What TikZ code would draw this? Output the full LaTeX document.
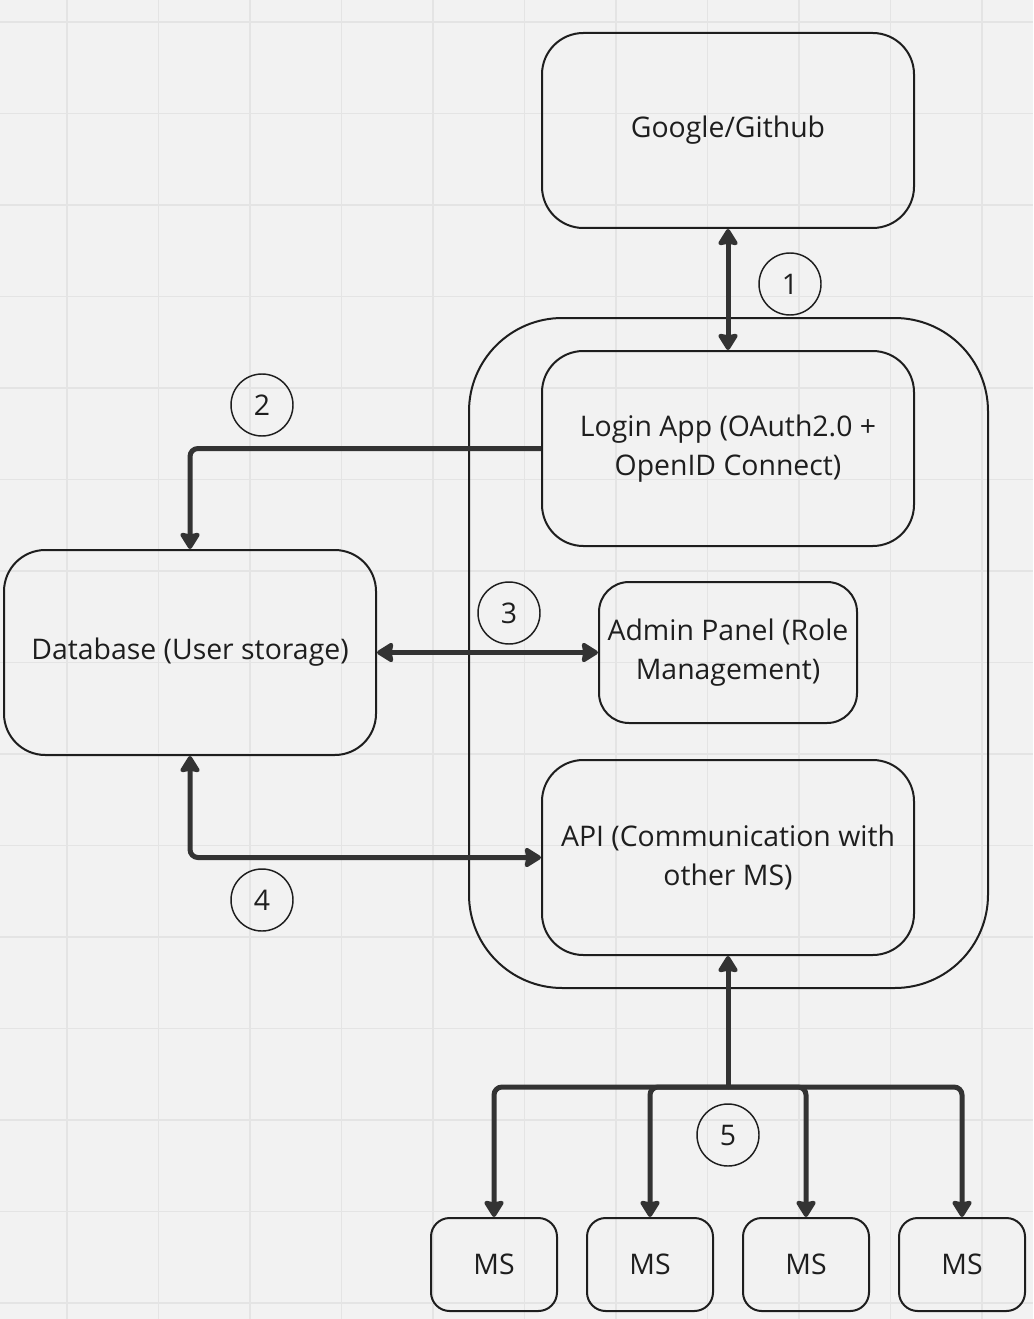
\documentclass[tikz,border=0pt]{standalone}
\usepackage{fontspec}
\setmainfont{Open Sans}
\usetikzlibrary{arrows.meta}
\definecolor{bgc}{HTML}{F2F2F2}
\definecolor{gridc}{HTML}{E4E4E4}
\definecolor{linec}{HTML}{1E1E1E}
\definecolor{connc}{HTML}{333333}
\definecolor{textc}{HTML}{1E1E1E}
\tikzset{
  box/.style={draw=linec, line width=1.5pt, rounded corners=31pt, inner sep=0pt, align=center, text=textc,
    font=\fontsize{21.3pt}{29pt}\selectfont},
  bigbox/.style={box, minimum width=279pt, minimum height=146.25pt},
  msbox/.style={box, rounded corners=14pt, minimum width=94.5pt, minimum height=69.75pt},
  numc/.style={circle, draw=linec, line width=1.1pt, minimum size=46.5pt, inner sep=0pt, text=textc,
    font=\fontsize{21.3pt}{29pt}\selectfont},
  conn/.style={draw=connc, line width=3.75pt, rounded corners=6pt,
    arrows={-}, >={Stealth[inset=1.5pt, length=14pt, width=17pt, round]}},
}
\begin{document}
\begin{tikzpicture}[x=0.75pt, y=-0.75pt]
  \useasboundingbox (0,0) rectangle (1033,1319);
  \fill[bgc] (0,0) rectangle (1033,1319);
  \foreach \i in {0,...,11} {
    \draw[gridc, line width=0.9pt] ({67+91.5*(\i-1)},0) -- ({67+91.5*(\i-1)},1319);
  }
  \foreach \j in {0,...,14} {
    \draw[gridc, line width=0.9pt] (0,{22+91.5*\j}) -- (1033,{22+91.5*\j});
  }
  % container
  \node[draw=linec, line width=1.5pt, rounded corners=70pt, minimum width=389.25pt, minimum height=502.5pt, inner sep=0pt] (cont) at (728.5,653) {};
  % boxes
  \node[bigbox] (google) at (728,130.5) {Google/Github};
  \node[bigbox] (login) at (728,448.5) {Login App (OAuth2.0 +\\OpenID Connect)};
  \node[bigbox, minimum height=153.75pt] (db) at (190,652.5) {Database (User storage)};
  \node[box, rounded corners=22.5pt, minimum width=193.5pt, minimum height=105.75pt] (admin) at (728,652.5) {Admin Panel (Role\\Management)};
  \node[bigbox] (api) at (728,857.5) {API (Communication with\\other MS)};
  \node[msbox] (ms1) at (494,1264.5) {MS};
  \node[msbox] (ms2) at (650,1264.5) {MS};
  \node[msbox] (ms3) at (806,1264.5) {MS};
  \node[msbox] (ms4) at (962,1264.5) {MS};
  % numbers
  \node[numc] (n1) at (790,284) {1};
  \node[numc] (n2) at (262,405) {2};
  \node[numc] (n3) at (509,613) {3};
  \node[numc] (n4) at (262,900) {4};
  \node[numc] (n5) at (728,1135) {5};
  % connectors
  \draw[conn, <->] (google.south) -- (login.north);
  \draw[conn, ->] (login.west) -| (db.north);
  \draw[conn, <->] (db.east) -- (admin.west);
  \draw[conn, <->] (db.south) |- (api.west);
  \coordinate (j) at (728,1087);
  \draw[conn, <-] (api.south) -- (j);
  \draw[conn, ->] (j) -| (ms1.north);
  \draw[conn, ->] (j) -| (ms2.north);
  \draw[conn, ->] (j) -| (ms3.north);
  \draw[conn, ->] (j) -| (ms4.north);
\end{tikzpicture}
\end{document}
